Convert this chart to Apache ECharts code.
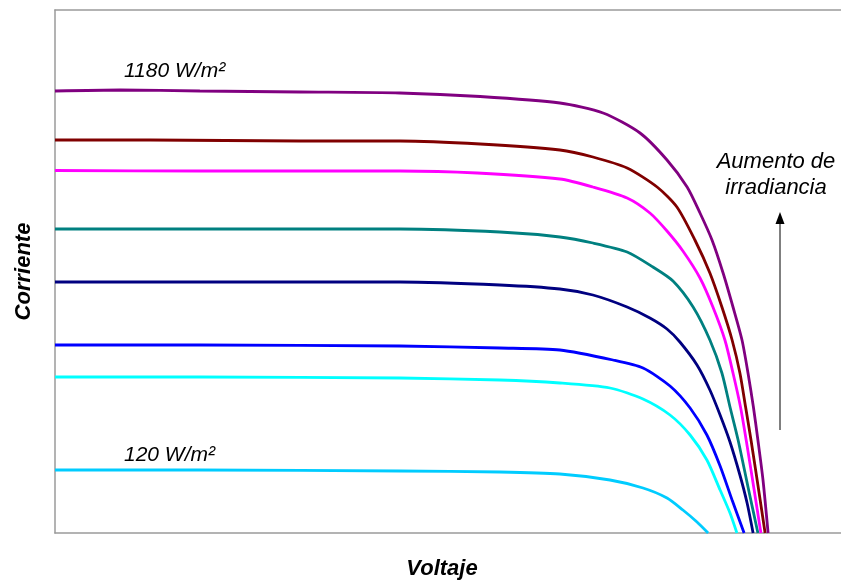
<!DOCTYPE html>
<html>
<head>
<meta charset="utf-8">
<script src="https://cdn.jsdelivr.net/npm/echarts@6/dist/echarts.min.js"></script>
<style>html,body{margin:0;padding:0;background:#fff}#c{width:841px;height:583px}</style>
</head>
<body>
<div id="c"></div>
<script>
// Voltage (V) / current (A) pairs
const s1180 = [[0,8.84],[2.17,8.86],[4.83,8.84],[8.17,8.82],[11.5,8.8],[14.17,8.73],[16.83,8.6],[18.27,8.4],[19.5,8.0],[20.4,7.46],[21.07,6.92],[21.5,6.4],[21.9,5.86],[22.27,5.2],[22.6,4.52],[22.9,3.86],[23.1,3.2],[23.28,2.52],[23.43,1.86],[23.6,1.06],[23.77,0]];
const sMaroon = [[0,7.86],[3.17,7.86],[8.17,7.84],[11.5,7.84],[14.17,7.78],[16.83,7.66],[17.93,7.52],[19.07,7.3],[20.07,6.92],[20.73,6.52],[21.33,5.86],[21.83,5.2],[22.23,4.52],[22.57,3.86],[22.83,3.2],[23.02,2.52],[23.2,1.86],[23.43,0.96],[23.67,0]];
const sMagenta = [[0,7.25],[4.83,7.24],[11.5,7.24],[14.07,7.2],[16.83,7.08],[17.93,6.92],[19.07,6.7],[19.83,6.4],[20.4,6.04],[20.93,5.64],[21.5,5.1],[21.93,4.52],[22.33,3.86],[22.6,3.2],[22.85,2.52],[23.05,1.82],[23.3,0.88],[23.53,0]];
const sTeal = [[0,6.08],[4.83,6.08],[11.5,6.08],[14.83,6.02],[16.83,5.92],[17.93,5.8],[19.07,5.62],[19.93,5.32],[20.6,5.04],[21.27,4.52],[21.83,3.86],[22.23,3.2],[22.5,2.52],[22.77,1.86],[23.1,0.92],[23.43,0]];
const sNavy = [[0,5.02],[4.83,5.02],[11.5,5.02],[14.83,4.96],[16.83,4.88],[17.93,4.76],[19.07,4.52],[19.83,4.3],[20.4,4.08],[20.83,3.82],[21.4,3.36],[21.83,2.86],[22.17,2.36],[22.5,1.82],[22.83,1.16],[23.07,0.6],[23.27,0]];
const sBlue = [[0,3.76],[4.83,3.76],[11.5,3.74],[14.83,3.7],[16.83,3.66],[18.6,3.46],[19.6,3.3],[20.5,2.94],[21.17,2.5],[21.73,1.96],[22.17,1.34],[22.57,0.66],[22.97,0]];
const sCyan = [[0,3.12],[4.83,3.12],[11.5,3.1],[14.83,3.06],[16.83,3.0],[18.5,2.9],[19.6,2.68],[20.5,2.36],[21.17,1.96],[21.73,1.46],[22.17,0.86],[22.5,0.4],[22.73,0]];
const s120 = [[0,1.26],[4.83,1.26],[11.5,1.24],[14.83,1.22],[16.83,1.18],[18.5,1.06],[19.6,0.9],[20.4,0.7],[20.93,0.46],[21.4,0.22],[21.77,0]];

const curves = [s120, sCyan, sBlue, sNavy, sTeal, sMagenta, sMaroon, s1180];
const colors = ['#00CCFF','#00FFFF','#0000FF','#000080','#008080','#FF00FF','#800000','#800080'];
const labelTop = '1180 W/m²';
const labelBottom = '120 W/m²';
const arrowLine1 = 'Aumento de';
const arrowLine2 = 'irradiancia';

const chart = echarts.init(document.getElementById('c'), null, {renderer:'canvas'});
const font = 'Liberation Sans, Arial, sans-serif';
const axisLineStyle = {show: true, lineStyle: {color: '#9a9a9a', width: 1.5}};
chart.setOption({
  animation: false,
  backgroundColor: '#fff',
  grid: {left: 55, right: 0, top: 10, bottom: 50, containLabel: false, outerBoundsMode: 'none'},
  xAxis: [{
    type: 'value', min: 0, max: 26.2, position: 'bottom',
    name: 'Voltaje', nameLocation: 'middle', nameGap: 25,
    nameTextStyle: {fontFamily: font, fontSize: 22, fontWeight: 'bold', fontStyle: 'italic', color: '#000', padding: [0, 12, 0, 0]},
    axisLine: axisLineStyle,
    axisTick: {show: false}, axisLabel: {show: false}, splitLine: {show: false}
  }, {
    type: 'value', min: 0, max: 26.2, position: 'top',
    axisLine: axisLineStyle,
    axisTick: {show: false}, axisLabel: {show: false}, splitLine: {show: false}
  }],
  yAxis: {
    type: 'value', min: 0, max: 10.46,
    name: 'Corriente', nameLocation: 'middle', nameGap: 20,
    nameTextStyle: {fontFamily: font, fontSize: 22, fontWeight: 'bold', fontStyle: 'italic', color: '#000'},
    axisLine: axisLineStyle,
    axisTick: {show: false}, axisLabel: {show: false}, splitLine: {show: false}
  },
  series: curves.map((d, i) => ({
    type: 'line', data: d, xAxisIndex: 0, smooth: 0.25, showSymbol: false,
    lineStyle: {color: colors[i], width: 2.8}, itemStyle: {color: colors[i]}
  })),
  graphic: [
    {type: 'text', x: 124, y: 71, style: {text: labelTop, font: 'italic 21px ' + font, fill: '#000', verticalAlign: 'middle'}},
    {type: 'text', x: 124, y: 455, style: {text: labelBottom, font: 'italic 21px ' + font, fill: '#000', verticalAlign: 'middle'}},
    {type: 'text', x: 776, y: 162, style: {text: arrowLine1, font: 'italic 22px ' + font, fill: '#000', align: 'center', verticalAlign: 'middle'}},
    {type: 'text', x: 776, y: 188, style: {text: arrowLine2, font: 'italic 22px ' + font, fill: '#000', align: 'center', verticalAlign: 'middle'}},
    {type: 'line', shape: {x1: 780, y1: 430, x2: 780, y2: 222}, style: {stroke: '#000', lineWidth: 1}},
    {type: 'polygon', shape: {points: [[780, 212], [775.5, 224], [784.5, 224]]}, style: {fill: '#000'}}
  ]
});
</script>
</body>
</html>
